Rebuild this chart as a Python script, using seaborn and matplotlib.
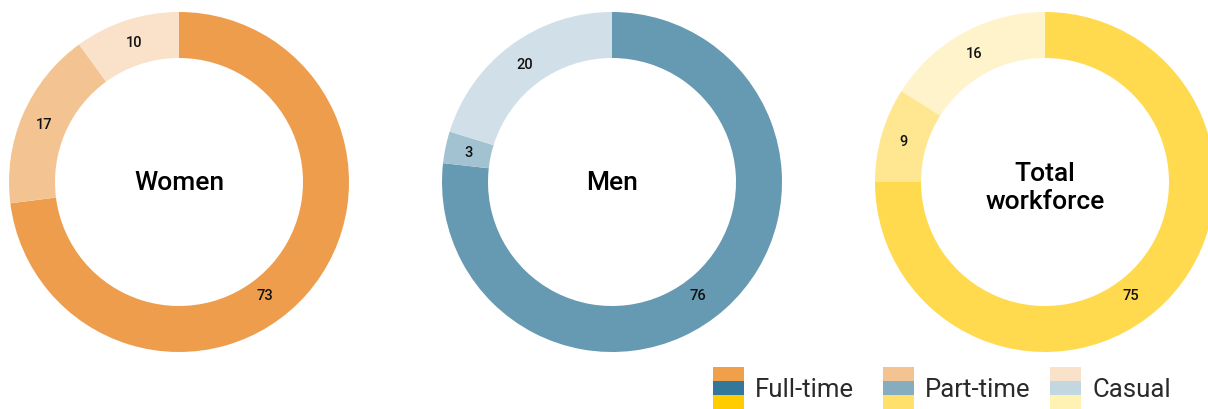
import numpy as np
import matplotlib
matplotlib.use("Agg")
import matplotlib.pyplot as plt
import seaborn as sns
from matplotlib.patches import Rectangle

sns.set_theme(style="white")
plt.rcParams['font.family'] = ['Roboto', 'DejaVu Sans']

# ---- data ----
groups = ["Women", "Men", "Total\nworkforce"]
categories = ["Full-time", "Part-time", "Casual"]
women = [73, 17, 10]
men = [76, 3, 20]
total = [75, 9, 16]
values = [women, men, total]

women_colors = ["#ED9D4C", "#F3C492", "#F9E1CA"]
men_colors = ["#6699B2", "#A3C2D1", "#D1E0E8"]
total_colors = ["#FFDA4F", "#FFE792", "#FFF3CB"]
ring_colors = [women_colors, men_colors, total_colors]

legend_colors = {
    "Full-time": ["#F0A04B", "#33789A", "#FFCC00"],
    "Part-time": ["#F3C492", "#86ACC0", "#FFE06A"],
    "Casual": ["#FAE2CA", "#C2D7E0", "#FFF2B3"],
}

W, H = 1208, 410
fig = plt.figure(figsize=(W / 100, H / 100), dpi=100)

centers_x = [179, 612, 1045]
center_y = 183
R = 170
inner = 124
width_frac = (R - inner) / R

for cx, vals, cols, name in zip(centers_x, values, ring_colors, groups):
    left = (cx - R) / W
    bottom = (H - center_y - R) / H
    ax = fig.add_axes([left, bottom, 2 * R / W, 2 * R / H])
    wedges, _ = ax.pie(vals, colors=cols, startangle=90, counterclock=False,
                       radius=1.0, wedgeprops=dict(width=width_frac, linewidth=0))
    ax.set_xlim(-1, 1)
    ax.set_ylim(-1, 1)
    ax.set_aspect("equal")
    ax.axis("off")
    # labels
    rlab = 1 - width_frac / 2
    cum = 0
    total_v = sum(vals)
    for i, v in enumerate(vals):
        mid = (cum + v / 2) / total_v * 360
        cum += v
        if i == 0:
            ang_deg = 143  # clockwise from top, placement of the large segment label
        else:
            ang_deg = mid
        th = np.deg2rad(90 - ang_deg)
        r = rlab if i > 0 else 0.835
        ax.text(r * np.cos(th), r * np.sin(th), str(v), ha="center", va="center",
                fontsize=10.5, fontweight="medium", color="#111111")
    multi = "\n" in name
    ax.text(0, -0.03 if multi else 0.0, name, ha="center", va="center", fontsize=19,
            fontweight="medium", color="#000000", linespacing=1.25)

# ---- legend ----
lax = fig.add_axes([0, 0, 1, 1])
lax.set_xlim(0, W)
lax.set_ylim(H, 0)
lax.axis("off")
lax.patch.set_alpha(0)
sw_x = [713, 883, 1050]
for x, cat in zip(sw_x, categories):
    for j, c in enumerate(legend_colors[cat]):
        lax.add_patch(Rectangle((x, 368 + j * 14), 31, 14, color=c, linewidth=0))
    lax.text(x + 42, 390, cat, ha="left", va="center", fontsize=18.5,
             fontweight="normal", color="#2a2a2a")

fig.savefig("out.png", dpi=100)
